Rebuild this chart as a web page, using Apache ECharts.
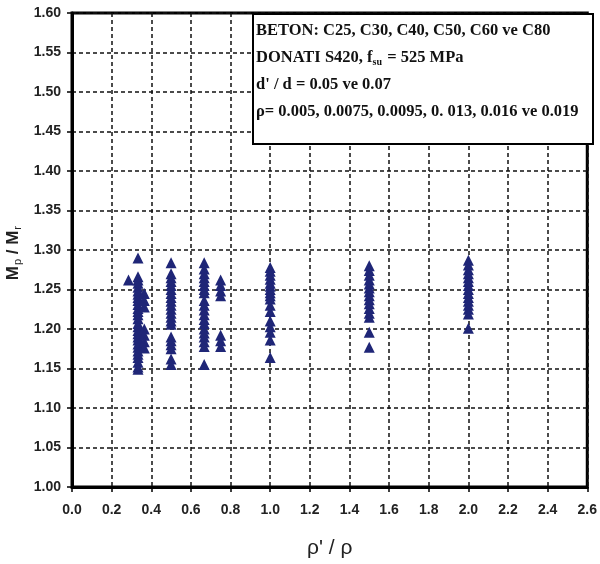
<!DOCTYPE html>
<html>
<head>
<meta charset="utf-8">
<script src="https://cdn.jsdelivr.net/npm/echarts/dist/echarts.min.js"></script>
<style>
  html, body { margin: 0; padding: 0; background: #fff; }
  #main { width: 600px; height: 564px; }
</style>
</head>
<body>
<div id="main"></div>
<script>
// x position of each column of points (rho'/rho)
var xPositions = [0.285, 0.333, 0.365, 0.5, 0.667, 0.75, 1.0, 1.5, 2.0];

// Mp/Mr values
var col0285 = [1.262];
var col0333 = [1.290, 1.266, 1.262, 1.258, 1.253, 1.248, 1.244, 1.240, 1.236, 1.231, 1.226, 1.222,
  1.218, 1.213, 1.207, 1.203, 1.198, 1.194, 1.190, 1.186, 1.181, 1.177, 1.172, 1.168, 1.164, 1.158, 1.152, 1.149];
var col0365 = [1.245, 1.236, 1.228, 1.200, 1.192, 1.184, 1.176];
var col050 = [1.284, 1.270, 1.265, 1.260, 1.255, 1.250, 1.245, 1.240, 1.235, 1.230, 1.225, 1.220,
  1.215, 1.210, 1.206, 1.190, 1.185, 1.180, 1.175, 1.162, 1.155];
var col0667 = [1.284, 1.276, 1.270, 1.265, 1.260, 1.255, 1.250, 1.246, 1.236, 1.230, 1.224, 1.218,
  1.212, 1.207, 1.200, 1.195, 1.190, 1.184, 1.178, 1.155];
var col075 = [1.262, 1.255, 1.248, 1.242, 1.192, 1.185, 1.178];
var col100 = [1.278, 1.273, 1.268, 1.263, 1.258, 1.254, 1.250, 1.246, 1.242, 1.238, 1.230, 1.222,
  1.210, 1.203, 1.196, 1.186, 1.164];
var col150 = [1.280, 1.274, 1.268, 1.262, 1.257, 1.252, 1.247, 1.242, 1.237, 1.232, 1.226, 1.220,
  1.215, 1.196, 1.177];
var col200 = [1.287, 1.281, 1.275, 1.270, 1.265, 1.260, 1.255, 1.250, 1.245, 1.240, 1.235, 1.230,
  1.225, 1.219, 1.201];

var columns = [col0285, col0333, col0365, col050, col0667, col075, col100, col150, col200];

var infoLines = [
  'BETON: C25, C30, C40, C50, C60 ve C80',
  '{t|DONATI S420, f}{s|su}{t| = 525 MPa}',
  "d' / d = 0.05 ve 0.07",
  'ρ= 0.005, 0.0075, 0.0095, 0. 013, 0.016 ve 0.019'
];

var points = [];
columns.forEach(function (col, i) {
  col.forEach(function (v) { points.push([xPositions[i], v]); });
});

var chart = echarts.init(document.getElementById('main'));

var serif = '"Liberation Serif", "Times New Roman", serif';
var lineY = [31, 58, 85, 112];

var infoText = infoLines.map(function (t, i) {
  return {
    type: 'text',
    left: 256,
    top: lineY[i] - 9,
    z: 101,
    style: {
      text: i === 1 ? t : '{t|' + t + '}',
      rich: {
        t: { fontFamily: serif, fontWeight: 'bold', fontSize: 16.5, fill: '#111' },
        s: { fontFamily: serif, fontWeight: 'bold', fontSize: 10, fill: '#111', padding: [10, 1, 0, 0] }
      }
    }
  };
});

option = {
  animation: false,
  grid: {
    left: 72, right: 8, top: 13, bottom: 77,
    show: true, borderColor: '#000', borderWidth: 3
  },
  xAxis: {
    type: 'value',
    min: 0, max: 2.6, interval: 0.2,
    axisLine: { show: true, lineStyle: { color: '#000', width: 3 } },
    axisTick: { show: true, length: 5, lineStyle: { color: '#000', width: 1.5 } },
    axisLabel: {
      margin: 16, fontFamily: 'Arial, "Liberation Sans", sans-serif', fontWeight: 'bold',
      fontSize: 14, color: '#222',
      formatter: function (v) { return v.toFixed(1); }
    },
    splitLine: { show: true, lineStyle: { color: '#111', width: 1.5, type: [4, 3] } },
    name: "ρ' / ρ",
    nameLocation: 'middle',
    nameGap: 51,
    nameTextStyle: { fontFamily: 'Arial, "Liberation Sans", sans-serif', fontSize: 21, color: '#222' }
  },
  yAxis: {
    type: 'value',
    min: 1.0, max: 1.6, interval: 0.05,
    axisLine: { show: true, lineStyle: { color: '#000', width: 3 } },
    axisTick: { show: true, length: 5, lineStyle: { color: '#000', width: 1.5 } },
    axisLabel: {
      margin: 11, fontFamily: 'Arial, "Liberation Sans", sans-serif', fontWeight: 'bold',
      fontSize: 14, color: '#222',
      formatter: function (v) { return v.toFixed(2); }
    },
    splitLine: { show: true, lineStyle: { color: '#111', width: 1.5, type: [4, 3] } }
  },
  graphic: [
    {
      type: 'text',
      left: 5,
      top: 226,
      rotation: Math.PI / 2,
      style: {
        text: '{m|M}{s|p}{m| / M}{s|r}',
        rich: {
          m: { fontFamily: 'Arial, "Liberation Sans", sans-serif', fontWeight: 'bold', fontSize: 17, fill: '#222' },
          s: { fontFamily: 'Arial, "Liberation Sans", sans-serif', fontSize: 11, fill: '#222', padding: [8, 0, 0, 1] }
        }
      }
    },
    {
      type: 'rect',
      left: 252, top: 13, z: 100,
      shape: { width: 340, height: 130 },
      style: { fill: '#fff', stroke: '#000', lineWidth: 2 }
    }
  ].concat(infoText),
  series: [
    {
      type: 'scatter',
      symbol: 'triangle',
      symbolSize: 11,
      itemStyle: { color: '#1f2677', opacity: 1 },
      data: points
    }
  ]
};

chart.setOption(option);
</script>
</body>
</html>
